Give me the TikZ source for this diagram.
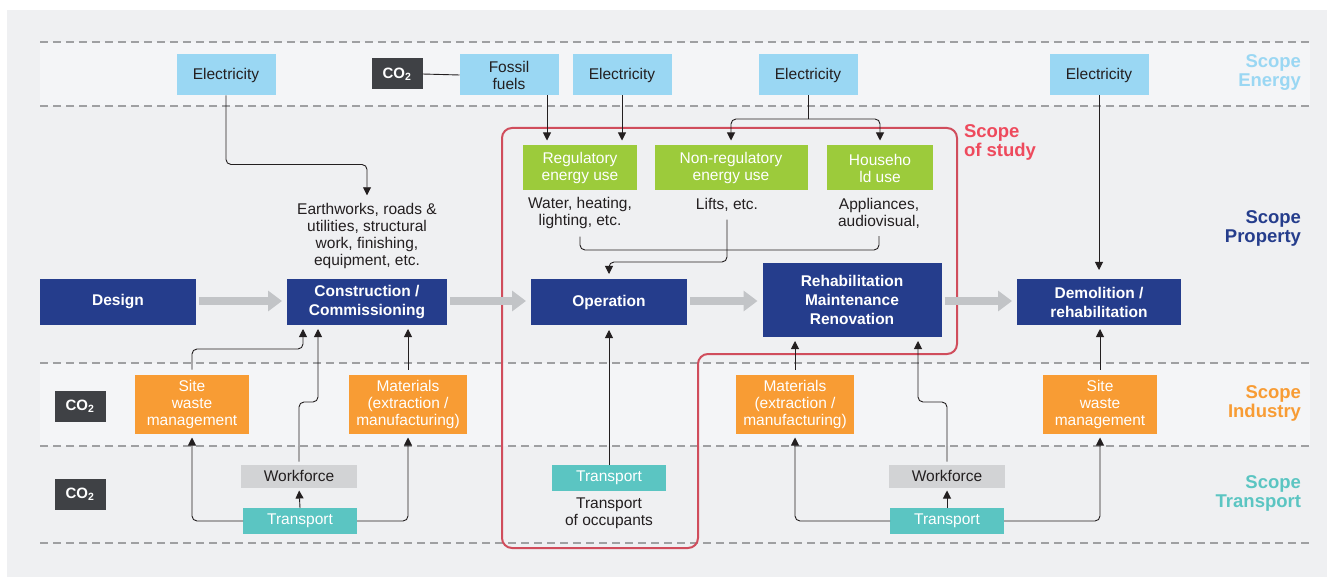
\documentclass[tikz,border=0pt]{standalone}
\usepackage{fontspec}
\setmainfont{Liberation Sans}
\usetikzlibrary{arrows.meta}
\definecolor{bg}{HTML}{EFF0F2}
\definecolor{band}{HTML}{F4F5F7}
\definecolor{energy}{HTML}{9AD7F3}
\definecolor{navy}{HTML}{253D8C}
\definecolor{grn}{HTML}{9CCB3B}
\definecolor{orng}{HTML}{F89C34}
\definecolor{tealc}{HTML}{5BC5C2}
\definecolor{wfc}{HTML}{D2D3D5}
\definecolor{coc}{HTML}{3F4145}
\definecolor{study}{HTML}{D04D5C}
\definecolor{studytxt}{HTML}{EE4A5D}
\definecolor{txt}{HTML}{231F20}
\definecolor{dashc}{HTML}{9FA0A2}
\definecolor{flow}{HTML}{C2C4C7}
\begin{document}
\begin{tikzpicture}[x=1pt,y=-1pt,
  every node/.style={inner sep=0pt, outer sep=0pt, align=center, text=txt, font=\fontsize{15.5}{17}\selectfont},
  elec/.style={fill=energy, minimum width=99pt, minimum height=41pt},
  gbox/.style={fill=grn, minimum height=45pt, text=white},
  mbox/.style={fill=navy, minimum height=46pt, text=white, font=\fontsize{15.5}{19}\selectfont\bfseries},
  obox/.style={fill=orng, minimum height=59pt, text=white},
  wbox/.style={fill=wfc, minimum width=116pt, minimum height=23pt},
  tbox/.style={fill=tealc, minimum width=114pt, minimum height=26pt, text=white},
  cobox/.style={fill=coc, minimum width=51pt, minimum height=31pt, text=white, font=\fontsize{15}{16}\selectfont\bfseries},
  scopelbl/.style={anchor=north east, align=right, font=\fontsize{18.5}{18.5}\selectfont\bfseries},
  conn/.style={draw=txt, line width=0.9pt, rounded corners=5pt, -{Triangle[width=8pt,length=8pt]}},
  plain/.style={draw=txt, line width=0.9pt, rounded corners=5pt},
  flowarrow/.style={draw=flow, line width=8pt, -{Triangle[width=20pt,length=14pt]}},
  dline/.style={draw=dashc, line width=1.6pt, dash pattern=on 8pt off 5pt}
]
\useasboundingbox (0,0) rectangle (1327,577);
\fill[white] (0,0) rectangle (1327,577);
\fill[bg] (7,10) rectangle (1327,577);
\fill[band] (40,42) rectangle (1310,106);
\fill[band] (40,363) rectangle (1310,446);
\foreach \yy in {42,106,363,446,543} \draw[dline] (40,\yy) -- (1310,\yy);

% scope labels
\node[scopelbl, text=energy] (sEnergy) at (1301,55) {Scope\\Energy};
\node[scopelbl, text=navy] (sProperty) at (1301,211) {Scope\\Property};
\node[scopelbl, text=orng] (sIndustry) at (1301,386) {Scope\\Industry};
\node[scopelbl, text=tealc] (sTransport) at (1301,476) {Scope\\Transport};
\node[anchor=north west, align=left, text=studytxt, font=\fontsize{18.5}{18.5}\selectfont\bfseries] (sStudy) at (964,125) {Scope\\of study};

% scope of study boundary
\draw[study, line width=2pt, rounded corners=10pt] (700,128) -- (957,128) -- (957,354) -- (698,354) -- (698,548) -- (502,548) -- (502,128) -- cycle;

% energy row
\node[elec] (el1) at (226,75) {Electricity};
\node[cobox] (co1) at (397,74) {CO\textsubscript{2}};
\node[elec] (fossil) at (509,75) {Fossil\\fuels};
\node[elec] (el2) at (622,75) {Electricity};
\node[elec] (el3) at (808,75) {Electricity};
\node[elec] (el4) at (1099,75) {Electricity};
\draw[plain] (co1.east) -- (fossil.west);

% green boxes
\node[gbox, minimum width=114pt] (reg) at (580,168) {Regulatory\\energy use};
\node[gbox, minimum width=153pt] (nonreg) at (731,168) {Non-regulatory\\energy use};
\node[gbox, minimum width=106pt] (house) at (880,168) {Househo\\ld use};
\node (wtxt) at (580,213) {Water, heating,\\lighting, etc.};
\node (lifts) at (727,205) {Lifts, etc.};
\node (appl) at (879,213) {Appliances,\\audiovisual,};
\node (earth) at (367,236) {Earthworks, roads \&\\utilities, structural\\work, finishing,\\equipment, etc.};

% main row
\node[mbox, minimum width=156pt] (design) at (118,302) {Design};
\node[mbox, minimum width=160pt] (constr) at (367,302) {Construction /\\Commissioning};
\node[mbox, minimum width=156pt] (op) at (609,302) {Operation};
\node[mbox, minimum width=179pt, minimum height=74pt] (rehab) at (852,300) {Rehabilitation\\Maintenance\\Renovation};
\node[mbox, minimum width=164pt] (demo) at (1099,302) {Demolition /\\rehabilitation};

\draw[flowarrow] ([xshift=3pt]design.east |- 0,301) -- ([xshift=-5pt]constr.west |- 0,301);
\draw[flowarrow] ([xshift=3pt]constr.east |- 0,301) -- ([xshift=-5pt]op.west |- 0,301);
\draw[flowarrow] ([xshift=3pt]op.east |- 0,301) -- ([xshift=-5pt]rehab.west |- 0,301);
\draw[flowarrow] ([xshift=3pt]rehab.east |- 0,301) -- ([xshift=-5pt]demo.west |- 0,301);

% industry row
\node[cobox] (co2) at (80,406) {CO\textsubscript{2}};
\node[obox, minimum width=114pt] (sw1) at (192,404) {Site\\waste\\management};
\node[obox, minimum width=118pt] (mat1) at (408,404) {Materials\\(extraction /\\manufacturing)};
\node[obox, minimum width=118pt] (mat2) at (795,404) {Materials\\(extraction /\\manufacturing)};
\node[obox, minimum width=114pt] (sw2) at (1100,404) {Site\\waste\\management};

% transport row
\node[cobox] (co3) at (80,494) {CO\textsubscript{2}};
\node[wbox] (wf1) at (299,476) {Workforce};
\node[tbox] (tr1) at (300,521) {Transport};
\node[tbox] (tr2) at (609,478) {Transport};
\node (occ) at (609,513) {Transport\\of occupants};
\node[wbox] (wf2) at (947,476) {Workforce};
\node[tbox] (tr3) at (947,521) {Transport};

% energy connectors
\draw[conn, shorten >=4pt] (el1.south) -- ++(0,69) -| ([yshift=4pt]earth.north);
\draw[conn, shorten >=5pt] (fossil.south -| 547,0) -- (reg.north -| 547,0);
\draw[conn, shorten >=5pt] (el2.south -| 622,0) -- (reg.north -| 622,0);
\draw[plain] (el3.south) -- ++(0,24);
\draw[conn, shorten >=5pt] (el3.south |- 0,119) -| (nonreg.north);
\draw[conn, shorten >=5pt] (el3.south |- 0,119) -| (house.north);
\draw[conn, shorten >=9pt] (el4.south) -- (demo.north);

% property connectors
\draw[plain] ([yshift=-8pt]wtxt.south) -- (wtxt.south |- 0,250) -| ([yshift=-8pt]appl.south);
\draw[conn, shorten >=5pt] ([yshift=-8pt]lifts.south) -- (lifts.south |- 0,262) -| (op.north);
\draw[conn, shorten >=5pt] (tr2.north) -- (op.south);

% left lower connectors
\draw[conn, shorten >=4pt, shorten <=5pt] (sw1.north) -- (sw1.north |- 0,349) -| ([xshift=-64pt]constr.south);
\draw[conn, shorten >=4pt, shorten <=3pt] (wf1.north) -- (wf1.north |- 0,402) -| ([xshift=-49pt]constr.south);
\draw[conn, shorten >=4pt, shorten <=5pt] (mat1.north) -- (mat1.north |- constr.south);
\draw[conn, shorten >=4pt] (tr1.west) -| (sw1.south);
\draw[conn, shorten >=4pt] (tr1.east) -| (mat1.south);
\draw[conn, shorten >=3pt] (tr1.north) -- (wf1.south);

% right lower connectors
\draw[conn, shorten >=4pt, shorten <=5pt] (mat2.north) -- (mat2.north |- rehab.south);
\draw[conn, shorten >=4pt, shorten <=3pt] (wf2.north) -- (wf2.north |- 0,402) -| ([xshift=66pt]rehab.south);
\draw[conn, shorten >=4pt] (tr3.west) -| (mat2.south);
\draw[conn, shorten >=4pt] (tr3.east) -| (sw2.south);
\draw[conn, shorten >=3pt] (tr3.north) -- (wf2.south);
\draw[conn, shorten >=4pt, shorten <=5pt] (sw2.north) -- (sw2.north |- demo.south);
\end{tikzpicture}
\end{document}
